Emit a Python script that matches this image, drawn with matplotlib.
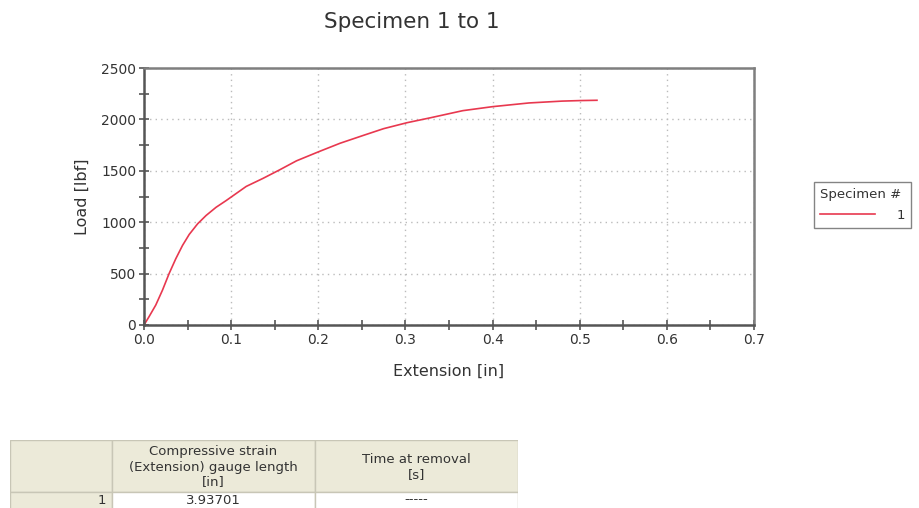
import matplotlib
matplotlib.use("Agg")
import matplotlib.pyplot as plt
from matplotlib.ticker import MultipleLocator

# curve
extension = [0.0, 0.0058, 0.0135, 0.0212, 0.0288, 0.0365, 0.0442, 0.0519, 0.0615, 0.0712,
             0.0827, 0.0942, 0.1173, 0.1365, 0.1558, 0.175, 0.2, 0.225, 0.2519, 0.275,
             0.3019, 0.3288, 0.3658, 0.4, 0.4418, 0.4798, 0.5, 0.5198]
load = [0, 81, 194, 339, 500, 645, 774, 881, 984, 1065,
        1145, 1210, 1348, 1426, 1510, 1597, 1684, 1768, 1845, 1910,
        1968, 2016, 2085, 2124, 2160, 2178, 2183, 2186]

table_cols = ["", "Compressive strain\n(Extension) gauge length\n[in]", "Time at removal\n[s]"]
table_row = ["1", "3.93701", "-----"]

txt = "#333333"
head_bg = "#ecead9"

fig = plt.figure(figsize=(9.19, 5.08), dpi=100)
ax = fig.add_axes([144/919, 1-325/508, 610/919, 257/508])

ax.plot(extension, load, color="#e8384f", lw=1.2, label="1")
ax.set_xlim(0, 0.7)
ax.set_ylim(0, 2500)
ax.xaxis.set_major_locator(MultipleLocator(0.1))
ax.xaxis.set_minor_locator(MultipleLocator(0.05))
ax.yaxis.set_major_locator(MultipleLocator(500))
ax.yaxis.set_minor_locator(MultipleLocator(250))
ax.xaxis.set_major_formatter(plt.FuncFormatter(lambda v, p: "%.1f" % v))
ax.tick_params(which="both", direction="inout", length=7, width=1.2, color="#555555",
               labelsize=10, labelcolor=txt, pad=2)
ax.grid(True, which="major", linestyle=(0, (1, 3)), color="#bbbbbb", lw=1)
for s in ax.spines.values():
    s.set_color("#7f7f7f")
    s.set_linewidth(1.8)
ax.spines["left"].set_color("#555555")
ax.spines["bottom"].set_color("#555555")
ax.set_xlabel("Extension [in]", fontsize=11.5, color=txt, labelpad=12)
ax.set_ylabel("Load [lbf]", fontsize=11.5, color=txt, labelpad=8)

fig.text(412/919, 1-22/508, "Specimen 1 to 1", ha="center", va="center", fontsize=15.5, color=txt)

leg = fig.legend(handles=ax.get_lines(), title="Specimen #", loc="upper left",
                 bbox_to_anchor=(814/919, 1-182/508), fontsize=9.5, title_fontsize=9.5,
                 frameon=True, fancybox=False, handlelength=4.2, borderpad=0.45,
                 borderaxespad=0, alignment="left", labelspacing=0.6, handletextpad=1.6)
leg.get_frame().set_edgecolor("#666666")
leg.get_frame().set_linewidth(1)
for t in leg.get_texts():
    t.set_color(txt)
leg.get_title().set_color(txt)

# table below the chart
tab_ax = fig.add_axes([10/919, 0, 508/919, 68/508])
tab_ax.set_xlim(10, 518)
tab_ax.set_ylim(508, 440)
tab_ax.axis("off")
col_edges = [10, 112, 315, 518]
head_top, head_bot, row_bot = 440, 492, 512
for i in range(3):
    x0, x1 = col_edges[i], col_edges[i+1]
    tab_ax.add_patch(plt.Rectangle((x0, head_top), x1-x0, head_bot-head_top,
                                   facecolor=head_bg, edgecolor="#c8c6b6", lw=1))
    row_bg = head_bg if i == 0 else "white"
    tab_ax.add_patch(plt.Rectangle((x0, head_bot), x1-x0, row_bot-head_bot,
                                   facecolor=row_bg, edgecolor="#c8c6b6", lw=1))
    tab_ax.text((x0+x1)/2, (head_top+head_bot)/2 + 1, table_cols[i], ha="center", va="center",
                fontsize=9.5, color=txt, linespacing=1.2)
tab_ax.text(col_edges[1]-6, 500, table_row[0], ha="right", va="center", fontsize=9.5, color=txt)
tab_ax.text((col_edges[1]+col_edges[2])/2, 500, table_row[1], ha="center", va="center", fontsize=9.5, color=txt)
tab_ax.text((col_edges[2]+col_edges[3])/2, 500, table_row[2], ha="center", va="center", fontsize=9.5, color=txt)

fig.savefig("out.png", dpi=100)
